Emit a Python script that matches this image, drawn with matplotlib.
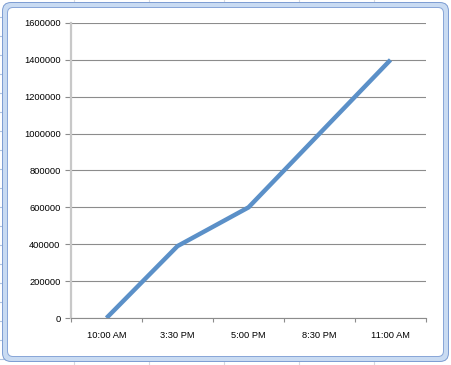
import numpy as np
import matplotlib
matplotlib.use("Agg")
import matplotlib.pyplot as plt
import matplotlib.patches as mpl_patches
from matplotlib.ticker import FixedLocator


# chart data
categories = ['10:00 AM', '3:30 PM', '5:00 PM', '8:30 PM', '11:00 AM']
values = [0, 390000, 600000, 1000000, 1400000]
y_ticks = [0, 200000, 400000, 600000, 800000, 1000000, 1200000, 1400000, 1600000]

plt.rcParams['font.family'] = ['Liberation Sans', 'DejaVu Sans']

W, H = 451, 365
fig = plt.figure(figsize=(W / 100, H / 100), dpi=100)
fig.patch.set_facecolor('white')

# spreadsheet background with the chart frame (pixel coords)
bg = fig.add_axes([0, 0, 1, 1], zorder=0)
bg.set_xlim(0, W)
bg.set_ylim(H, 0)
bg.axis('off')
for gx in (74, 149, 224, 299, 374):
    bg.plot([gx, gx], [0, H], color='#D6D9DE', lw=0.8, zorder=0)
for gy in range(17, H, 19):
    bg.plot([0, 4], [gy, gy], color='#AFC3E0', lw=0.8, zorder=0)

def rounded(x0, y0, x1, y1, r, color):
    p = mpl_patches.FancyBboxPatch((x0 + r, y0 + r), (x1 - x0) - 2 * r, (y1 - y0) - 2 * r,
                                   boxstyle=mpl_patches.BoxStyle('Round', pad=r),
                                   facecolor=color, edgecolor='none', zorder=1)
    bg.add_patch(p)

rounded(2, 2, 449, 362, 9, '#7F9ED3')
rounded(3, 3, 448, 361, 8, '#C9DBF2')
rounded(7, 7, 444, 357, 6, '#8AA7D8')
rounded(8, 8, 443, 356, 5, 'white')

# the chart itself
ax = fig.add_axes([71 / W, 47 / H, 355 / W, 295 / H], zorder=1)
ax.set_facecolor('none')
x = np.arange(len(categories))
ax.plot(x, values, color='#5B90C8', lw=3.2, solid_capstyle='butt', zorder=3)

ax.set_xlim(-0.5, len(categories) - 0.5)
ax.set_ylim(0, 1600000)
ax.set_yticks(y_ticks)
ax.set_yticklabels([str(v) for v in y_ticks])
ax.set_xticks(x)
ax.set_xticklabels(categories)
ax.xaxis.set_minor_locator(FixedLocator(np.arange(-0.5, len(categories), 1.0)))

ax.yaxis.grid(True, color='#8C8C8C', lw=0.8)
ax.set_axisbelow(True)
ax.tick_params(axis='y', length=4, width=0.8, color='#8C8C8C', pad=3.5, labelsize=6.7)
ax.tick_params(axis='x', which='major', length=0, pad=9, labelsize=6.7)
ax.tick_params(axis='x', which='minor', length=3, width=0.8, color='#8C8C8C')

for s in ('top', 'right'):
    ax.spines[s].set_visible(False)
ax.spines['left'].set_color('#C8C8C8')
ax.spines['left'].set_linewidth(1.6)
ax.spines['bottom'].set_color('#8C8C8C')
ax.spines['bottom'].set_linewidth(0.8)

fig.savefig('out.png', dpi=100)
